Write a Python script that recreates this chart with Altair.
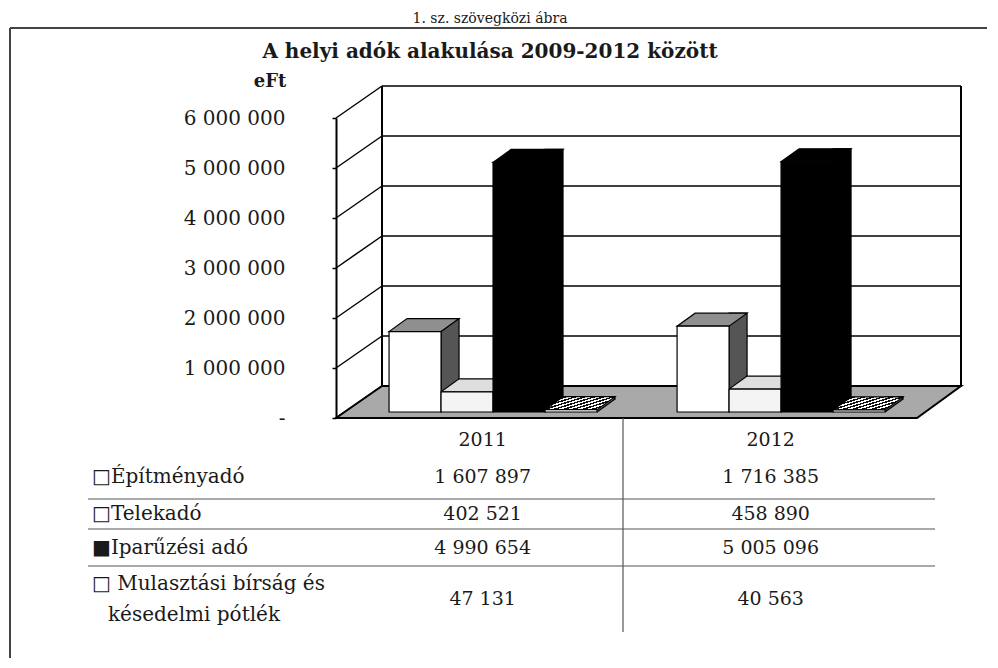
import altair as alt
import pandas as pd

# ---------------- data ----------------
years = ["2011", "2012"]
series = ["Építményadó", "Telekadó", "Iparűzési adó", "Mulasztási bírság és késedelmi pótlék"]
values_2011 = [1607897, 402521, 4990654, 47131]
values_2012 = [1716385, 458890, 5005096, 40563]
y_ticks = [0, 1000000, 2000000, 3000000, 4000000, 5000000, 6000000]
row_labels = [["□Építményadó"], ["□Telekadó"], ["■Iparűzési adó"],
              ["□ Mulasztási bírság és", "késedelmi pótlék"]]
title_text = "A helyi adók alakulása 2009-2012 között"
unit_text = "eFt"
caption_text = "1.   sz. szövegközi ábra"

# ---------------- style ----------------
FONT = "DejaVu Serif"
INK = "#1a1a1a"
W, H = 581, 300
DX, DY = 46, 32          # wall depth
BW = 52                  # bar width
BDX, BDY = 18, 13        # bar depth
BASE = 6                 # bars stand slightly inside the floor

front_colors = ["#ffffff", "#f4f4f4", "#000000", "#ffffff"]
top_colors = ["#8f8f8f", "#dedede", "#000000", "#8a8a8a"]
side_colors = ["#555555", "#bdbdbd", "#000000", "#666666"]

rows = []
for y, vals in zip(years, [values_2011, values_2012]):
    for s, v in zip(series, vals):
        rows.append({"year": y, "series": s, "value": v, "base": 0})
df = pd.DataFrame(rows)
ticks_df = pd.DataFrame({"tick": y_ticks})
edge_df = pd.DataFrame({"lo": [y_ticks[0]], "hi": [y_ticks[-1]]})
one = pd.DataFrame({"k": [0]})

xscale = alt.Scale(domain=years, paddingInner=0.278, paddingOuter=0.1476, align=0.624)
yscale = alt.Scale(domain=[0, 6000000], nice=False, zero=True)
yaxis = alt.Axis(
    values=y_ticks,
    labelExpr="datum.value == 0 ? '-' : replace(replace(format(datum.value, ','), ',', ' '), ',', ' ')",
    tickSize=4, labelPadding=47, domainColor="#000", domainWidth=2,
    tickColor="#000", tickWidth=1.5, grid=False, title=None,
    labelFont=FONT, labelFontSize=20, labelColor=INK,
)

def xenc(bp):
    return alt.X("year:N", scale=xscale, axis=None, bandPosition=bp)

def x2enc(bp):
    return alt.X2("year", bandPosition=bp)

def yf(field):
    return alt.Y(field, scale=yscale, axis=yaxis)

def hrule(x1, x2, y, color="#333", width=1.0):
    return alt.Chart(one).mark_rule(color=color, strokeWidth=width).encode(
        x=alt.value(x1), x2=alt.value(x2), y=alt.value(y))

def vrule(x, y1, y2, color="#333", width=1.0):
    return alt.Chart(one).mark_rule(color=color, strokeWidth=width).encode(
        x=alt.value(x), y=alt.value(y1), y2=alt.value(y2))

def const_text(txt, x, y, size, weight="normal", align="center", baseline="middle"):
    return alt.Chart(pd.DataFrame({"t": [txt]})).mark_text(
        font=FONT, fontSize=size, fontWeight=weight, align=align,
        baseline=baseline, color=INK,
    ).encode(x=alt.value(x), y=alt.value(y), text="t:N")

layers = []

# outer frame (top + left)
layers.append(hrule(-326, 660, -90, "#444", 2))
layers.append(vrule(-326, -90, 560, "#444", 2))

# caption, title, unit
layers.append(const_text(caption_text, 154, -95, 14, baseline="alphabetic"))
layers.append(const_text(title_text, 154, -66, 20, weight="bold"))
layers.append(const_text(unit_text, -66, -36, 18, weight="bold"))

# left side wall diagonals
layers.append(alt.Chart(ticks_df).mark_rule(color="#000", strokeWidth=1.5, y2Offset=-DY).encode(
    x=alt.value(0), x2=alt.value(DX), y=yf("tick:Q"), y2=alt.Y2("tick")))
# back wall gridlines
layers.append(alt.Chart(ticks_df).mark_rule(color="#000", strokeWidth=1.5, yOffset=-DY).encode(
    x=alt.value(DX), x2=alt.value(W + DX - 2), y=yf("tick:Q")))
# back wall vertical edges
for xv in [DX, W + DX - 2]:
    layers.append(alt.Chart(edge_df).mark_rule(color="#000", strokeWidth=2, yOffset=-DY, y2Offset=-DY).encode(
        x=alt.value(xv), y=yf("lo:Q"), y2=alt.Y2("hi")))

# floor
floor_path = f"M0,0 L{W},0 L{W + DX - 2},-{DY} L{DX},-{DY} Z"
layers.append(alt.Chart(edge_df).mark_point(
    shape=floor_path, size=4, filled=True, opacity=1, fill="#a9a9a9",
    stroke="#000", strokeWidth=2).encode(x=alt.value(0), y=yf("lo:Q")))

# ---------------- 3-D bars ----------------
stops = []
n = 10
for i in range(n):
    a, b, c = i / n, (i + 0.5) / n, (i + 1) / n
    stops += [{"offset": a, "color": "#111111"}, {"offset": b, "color": "#111111"},
              {"offset": b, "color": "#ffffff"}, {"offset": c, "color": "#ffffff"}]
hatch = {"gradient": "linear", "x1": 0, "y1": 0, "x2": 1, "y2": 0.6, "stops": stops}
top_path = f"M0,0 L{BW},0 L{BW + BDX},-{BDY} L{BDX},-{BDY} Z"
nser = len(series)

def sdf(k):
    return alt.Chart(df).transform_filter(alt.datum.series == series[k])

# side faces
for k in range(nser):
    b1 = (k + 1) / nser
    layers.append(sdf(k).mark_rect(
        fill=side_colors[k], stroke="#000", strokeWidth=1.2, x2Offset=BDX,
        yOffset=-(BASE + BDY), y2Offset=-(BASE + BDY)).encode(
        x=xenc(b1), x2=x2enc(b1), y=yf("value:Q"), y2=alt.Y2("base")))
    layers.append(sdf(k).mark_point(
        shape=f"M0,-{BDY} L0,0 L{BDX},-{BDY} Z", size=4, filled=True, opacity=1,
        fill=side_colors[k], strokeWidth=0, yOffset=-BASE).encode(
        x=xenc(b1), y=yf("base:Q")))
    layers.append(sdf(k).mark_point(
        shape=f"M0,0 L{BDX},-{BDY}", size=4, filled=False, opacity=1,
        stroke="#000", strokeWidth=1.2, yOffset=-BASE).encode(
        x=xenc(b1), y=yf("base:Q")))
# top faces
for k in range(nser):
    b0 = k / nser
    fill = hatch if k == 3 else top_colors[k]
    layers.append(sdf(k).mark_point(
        shape=top_path, size=4, filled=True, opacity=1, fill=fill, stroke="#000",
        strokeWidth=1.2, yOffset=-BASE).encode(
        x=xenc(b0), y=yf("value:Q")))
# front faces
for k in range(nser):
    b0, b1 = k / nser, (k + 1) / nser
    layers.append(sdf(k).mark_rect(
        fill=front_colors[k], stroke="#000", strokeWidth=1.2,
        yOffset=-BASE, y2Offset=-BASE).encode(
        x=xenc(b0), x2=x2enc(b1), y=yf("value:Q"), y2=alt.Y2("base")))

# ---------------- data table ----------------
row_y = [359, 396, 430, 481]
label_y = [[359], [396], [430], [466, 497]]
label_x = [-244, -228]
line_y = [381, 411, 448]
for ly in line_y:
    layers.append(hrule(-248, 599, ly, "#555", 1.2))
layers.append(vrule(287, 300, 514, "#555", 1.2))

years_df = pd.DataFrame({"year": years})
layers.append(alt.Chart(years_df).mark_text(font=FONT, fontSize=19, color=INK, baseline="middle").encode(
    x=xenc(0.45), y=alt.value(322), text="year:N"))

for i, s in enumerate(series):
    for j, line in enumerate(row_labels[i]):
        layers.append(const_text(line, label_x[j], label_y[i][j], 20, align="left"))
    layers.append(alt.Chart(df).transform_filter(alt.datum.series == s).transform_calculate(
        lbl="replace(replace(format(datum.value, ','), ',', ' '), ',', ' ')"
    ).mark_text(font=FONT, fontSize=19, color=INK, baseline="middle").encode(
        x=xenc(0.45), y=alt.value(row_y[i]), text="lbl:N"))

chart = alt.layer(*layers).properties(
    width=W, height=H, autosize="none",
    padding={"left": 328, "top": 110, "right": 70, "bottom": 240},
).configure_view(stroke=None)

chart.save("out.html", embed_options={"renderer": "svg", "actions": False})
